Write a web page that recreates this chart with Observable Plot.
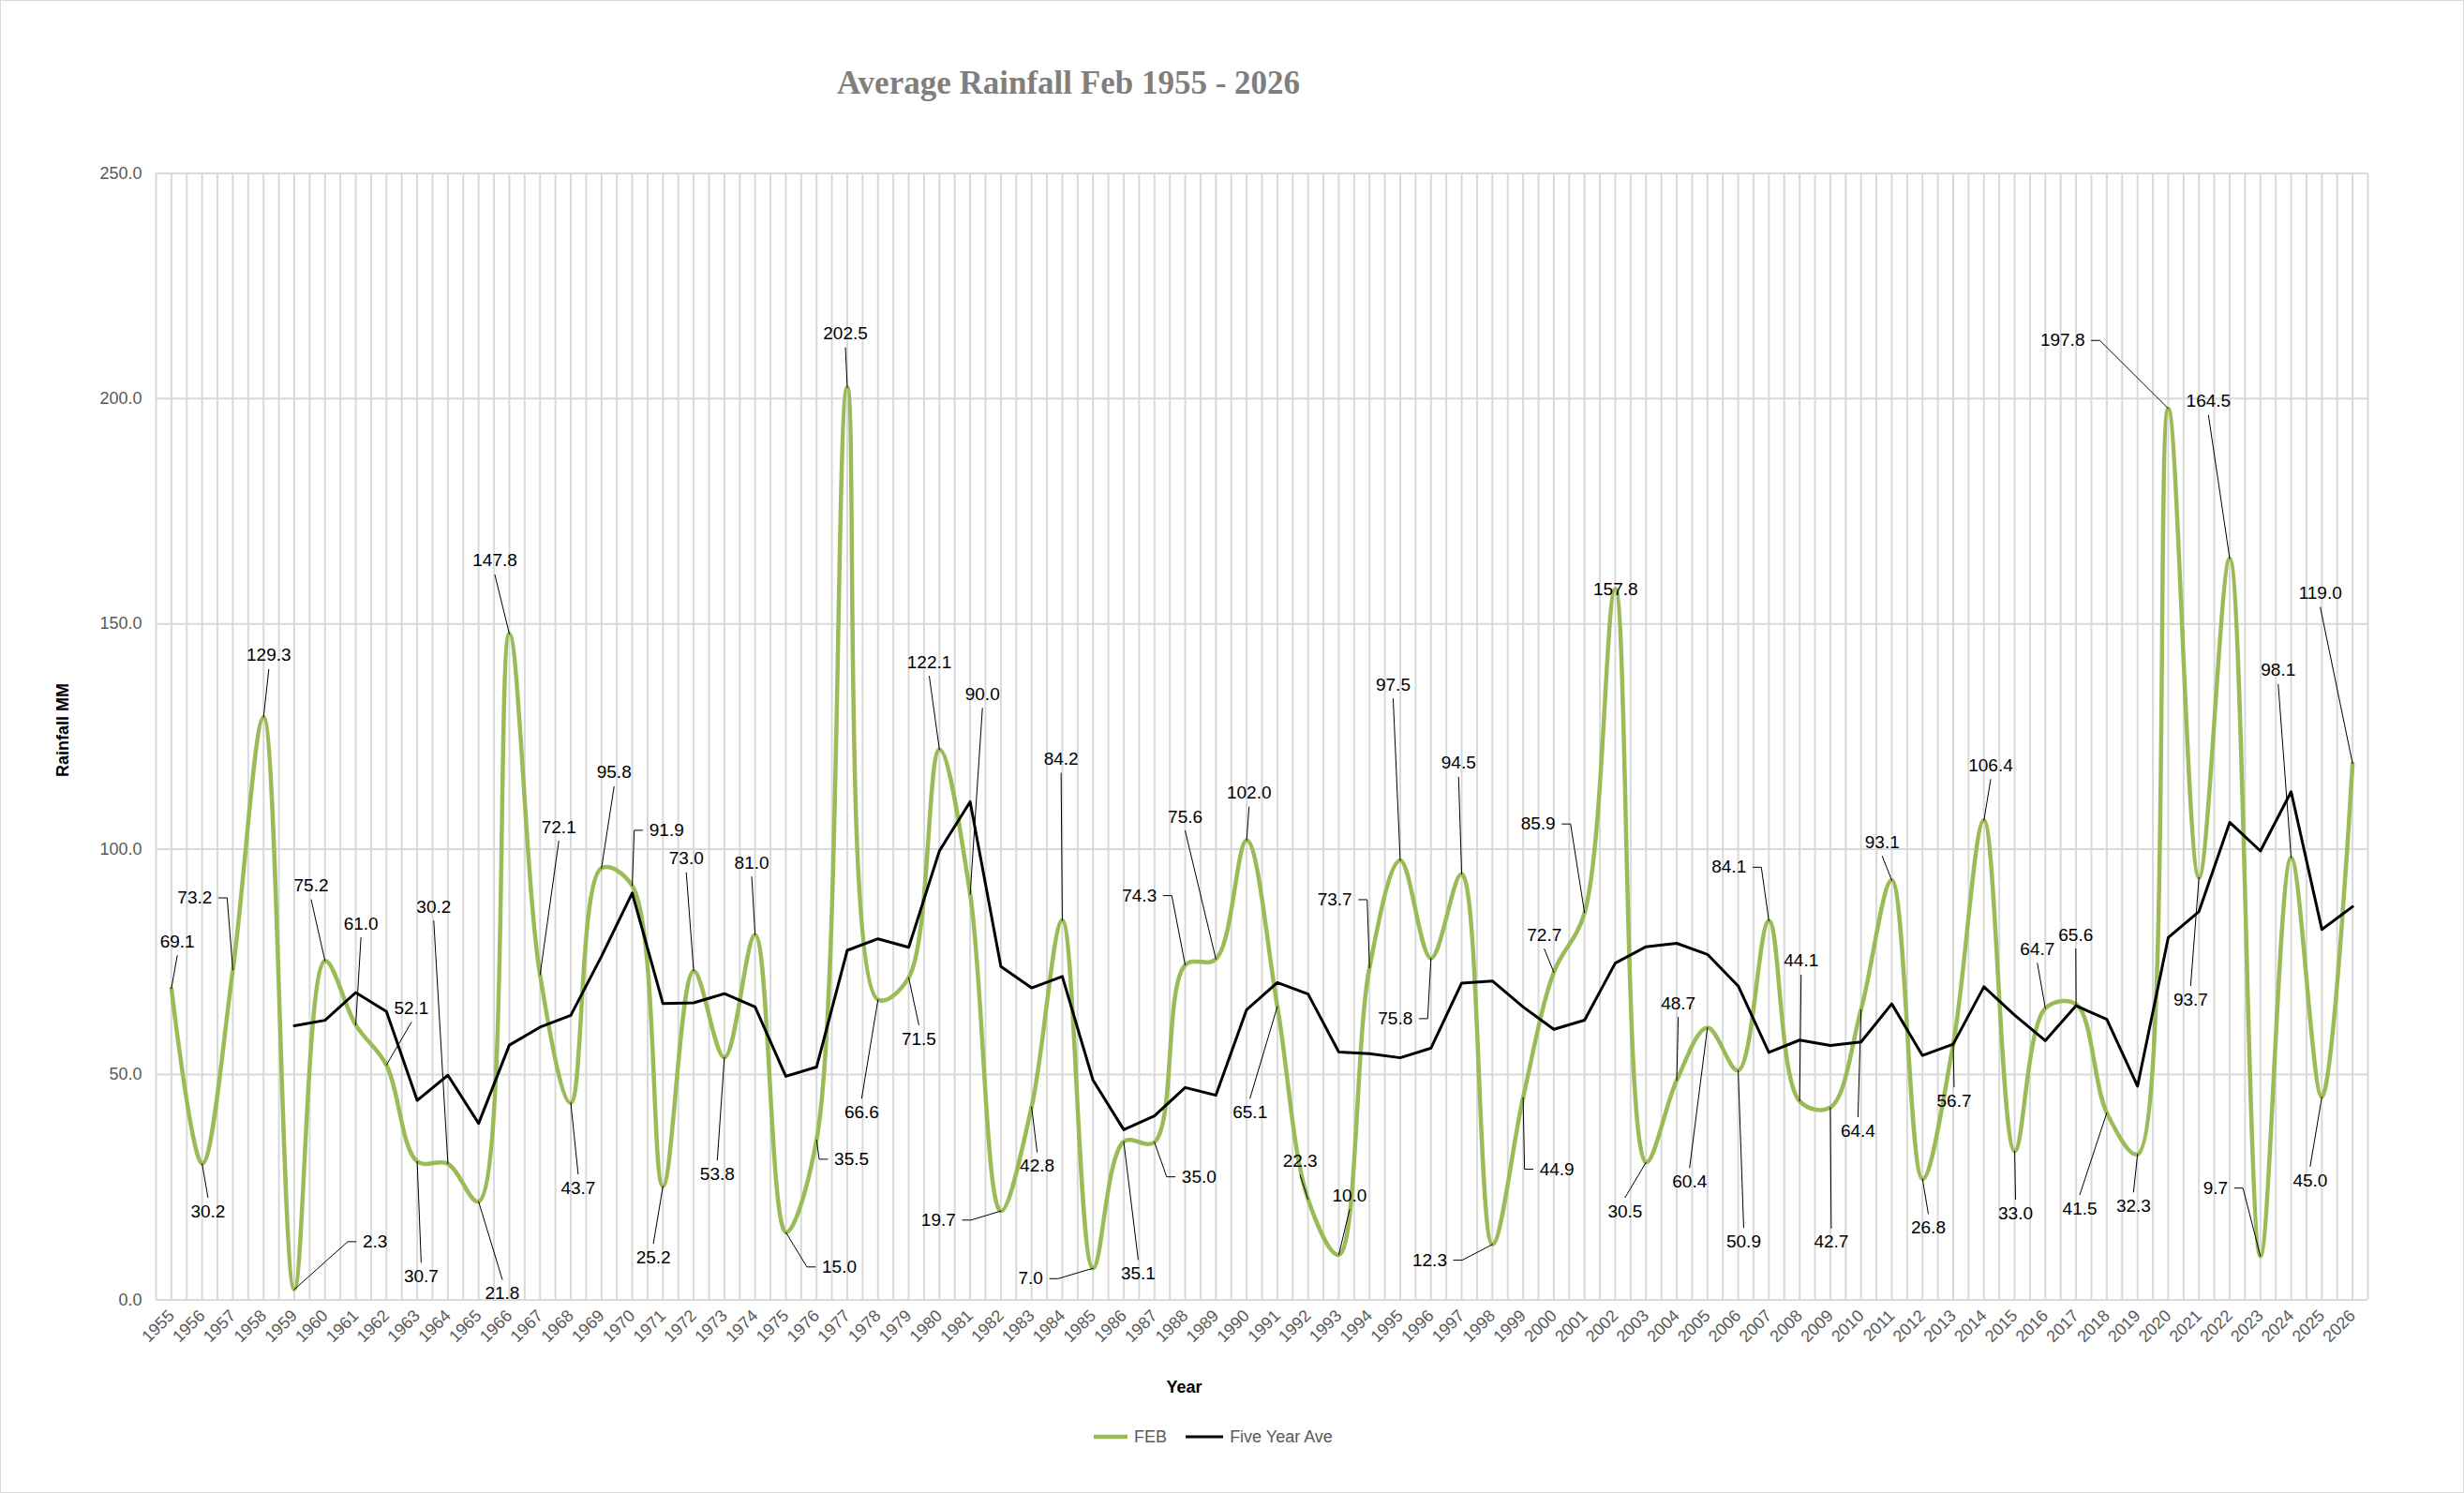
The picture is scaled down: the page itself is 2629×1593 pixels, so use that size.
<!DOCTYPE html>
<html>
<head>
<meta charset="utf-8">
<script src="https://cdn.jsdelivr.net/npm/d3@7"></script>
<script src="https://cdn.jsdelivr.net/npm/@observablehq/plot@0.6"></script>
<style>
  html, body { margin: 0; padding: 0; background: #ffffff; }
  #chart {
    position: relative; width: 2627px; height: 1591px;
    border: 1px solid #d9d9d9; background: #ffffff; overflow: hidden;
    font-family: "Liberation Sans", Arial, sans-serif;
  }
  #title {
    height: 130px; box-sizing: border-box; padding-top: 68px;
    width: 2278px; text-align: center;
    font-family: "Liberation Serif", "DejaVu Serif", serif;
    font-weight: bold; font-size: 35px; line-height: 40px; color: #7f7f7f;
  }
  #plot { height: 1375px; }
  #legend {
    height: 54px; box-sizing: border-box; padding-top: 0px; padding-right: 40px;
    display: flex; justify-content: center; align-items: center; gap: 20px;
    font-size: 18px; color: #595959;
  }
  .item { display: flex; align-items: center; gap: 7px; }
</style>
</head>
<body>
<div id="chart">
  <div id="title">Average Rainfall Feb 1955 - 2026</div>
  <div id="plot"></div>
  <div id="legend">
    <div class="item"><svg width="36" height="10"><line x1="0" y1="5" x2="36" y2="5" stroke="#9BBB59" stroke-width="4.5"/></svg><span>FEB</span></div>
    <div class="item"><svg width="40" height="10"><line x1="0" y1="5" x2="40" y2="5" stroke="#000000" stroke-width="3"/></svg><span>Five Year Ave</span></div>
  </div>
</div>
<script>
// ---- data ----
const years = [1955,1956,1957,1958,1959,1960,1961,1962,1963,1964,
  1965,1966,1967,1968,1969,1970,1971,1972,1973,1974,
  1975,1976,1977,1978,1979,1980,1981,1982,1983,1984,
  1985,1986,1987,1988,1989,1990,1991,1992,1993,1994,
  1995,1996,1997,1998,1999,2000,2001,2002,2003,2004,
  2005,2006,2007,2008,2009,2010,2011,2012,2013,2014,
  2015,2016,2017,2018,2019,2020,2021,2022,2023,2024,
  2025,2026];

const feb = [69.1,30.2,73.2,129.3,2.3,75.2,61.0,52.1,30.7,30.2,
  21.8,147.8,72.1,43.7,95.8,91.9,25.2,73.0,53.8,81.0,
  15.0,35.5,202.5,66.6,71.5,122.1,90.0,19.7,42.8,84.2,
  7.0,35.1,35.0,74.3,75.6,102.0,65.1,22.3,10.0,73.7,
  97.5,75.8,94.5,12.3,44.9,72.7,85.9,157.8,30.5,48.7,
  60.4,50.9,84.1,44.1,42.7,64.4,93.1,26.8,56.7,106.4,
  33.0,64.7,65.6,41.5,32.3,197.8,93.7,164.5,9.7,98.1,
  45.0,119.0];

const yTicks = [0, 50, 100, 150, 200, 250];

// data-label placement (in data units), as positioned in the original chart
const labelYear = [1955.19,1956.19,1955.76,1958.17,1961.63,1959.55,1961.17,1962.81,1963.13,1963.54,
  1965.77,1965.53,1967.61,1968.24,1969.41,1971.12,1970.69,1971.76,1972.77,1973.89,
  1976.74,1977.14,1976.94,1977.47,1979.33,1979.67,1981.40,1979.97,1983.18,1983.96,
  1982.97,1986.47,1988.45,1986.51,1988.00,1990.08,1990.11,1991.74,1993.35,1992.87,
  1994.77,1994.84,1996.90,1995.96,2000.10,1999.69,1999.49,2002.01,2002.32,2004.05,
  2004.42,2006.18,2005.70,2008.05,2009.03,2009.90,2010.69,2012.19,2013.03,2014.22,
  2015.03,2015.74,2016.99,2017.12,2018.87,2016.56,2020.73,2021.31,2021.54,2023.58,
  2024.62,2024.95];
const labelValue = [79.5,19.6,89.2,143.0,12.9,91.9,83.5,64.7,5.2,87.2,
  1.4,164.0,104.9,24.8,117.0,104.2,9.4,97.9,27.9,97.0,
  7.3,31.2,214.4,41.6,57.9,141.5,134.4,17.7,29.7,120.0,
  4.7,5.8,27.3,89.7,107.2,112.5,41.6,30.8,23.1,88.8,
  136.5,62.4,119.1,8.8,29.0,81.0,105.6,157.6,19.6,65.8,
  26.2,12.9,96.0,75.2,12.8,37.5,101.6,16.0,44.1,118.6,
  19.2,77.8,81.0,20.2,20.8,212.9,66.6,199.4,24.8,139.7,
  26.5,156.8];
const elbowRight = [1957,1982,1985,1988,1994,1996,1998,2001,2007,2020,2023];
const elbowLeft = [1959,1970,1975,1976,1987,1999];

// ---- layout ----
const W = 2627, H = 1375;
const mL = 165, mR = 102, mT = 53.4, mB = 119.6;
const xDomain = [1954.5, 2026.5];
const pxX = (W - mL - mR) / (xDomain[1] - xDomain[0]);
const pxY = (H - mT - mB) / 250;

const rows = years.map((y, i) => ({year: y, feb: feb[i], lx: labelYear[i], ly: labelValue[i], txt: feb[i].toFixed(1)}));

// leader lines
const leaders = [];
rows.forEach((r, i) => {
  const digits = r.txt.replace(".", "").length;
  const hw = (digits * 10.6 + 5.3) / 2;
  const dxp = (r.lx - r.year) * pxX, dyp = (r.ly - r.feb) * pxY;
  if (Math.hypot(dxp, dyp) < 22) return;
  let pts;
  if (elbowRight.includes(r.year)) {
    pts = [[r.lx + (hw + 7) / pxX, r.ly], [r.lx + (hw + 16) / pxX, r.ly]];
  } else if (elbowLeft.includes(r.year)) {
    pts = [[r.lx - (hw + 7) / pxX, r.ly], [r.lx - (hw + 16) / pxX, r.ly]];
  } else {
    pts = [[r.lx, r.ly - Math.sign(dyp) * 15 / pxY]];
  }
  pts.push([r.year, r.feb]);
  pts.forEach(p => leaders.push({id: i, x: p[0], y: p[1]}));
});

const chart = Plot.plot({
  width: W, height: H,
  marginLeft: mL, marginRight: mR, marginTop: mT, marginBottom: mB,
  style: {fontFamily: "'Liberation Sans', Arial, sans-serif", background: "white", overflow: "visible"},
  x: {domain: xDomain},
  y: {domain: [0, 250]},
  marks: [
    Plot.ruleX(d3.range(xDomain[0], xDomain[1] + 0.01, 0.5), {stroke: "#d9d9d9", strokeWidth: 2}),
    Plot.ruleY(yTicks, {stroke: "#d9d9d9", strokeWidth: 2}),
    Plot.axisY({ticks: yTicks, tickFormat: d => d.toFixed(1), tickSize: 0, tickPadding: 15,
      fontSize: 18, color: "#595959", label: null}),
    Plot.axisX({ticks: years, tickFormat: d => String(d), tickRotate: -45, tickSize: 0, tickPadding: 14,
      fontSize: 18, color: "#595959", label: null}),
    Plot.text(["Rainfall MM"], {frameAnchor: "left", rotate: -90, dx: -99, dy: 43,
      fontSize: 18, fontWeight: "bold", fill: "#000"}),
    Plot.text(["Year"], {frameAnchor: "bottom", dx: -83, dy: 99,
      fontSize: 18, fontWeight: "bold", fill: "#000"}),
    Plot.line(rows, {x: "year", y: "feb", curve: "catmull-rom", stroke: "#9BBB59", strokeWidth: 4.5}),
    Plot.line(rows, Plot.windowY({k: 5, anchor: "end", reduce: "mean", strict: true},
      {x: "year", y: "feb", stroke: "#000000", strokeWidth: 3})),
    Plot.line(leaders, {x: "x", y: "y", z: "id", stroke: "#000000", strokeWidth: 1}),
    Plot.text(rows, {x: "lx", y: "ly", text: "txt", fontSize: 19, fill: "#000000"})
  ]
});
document.getElementById("plot").appendChild(chart);
</script>
</body>
</html>
